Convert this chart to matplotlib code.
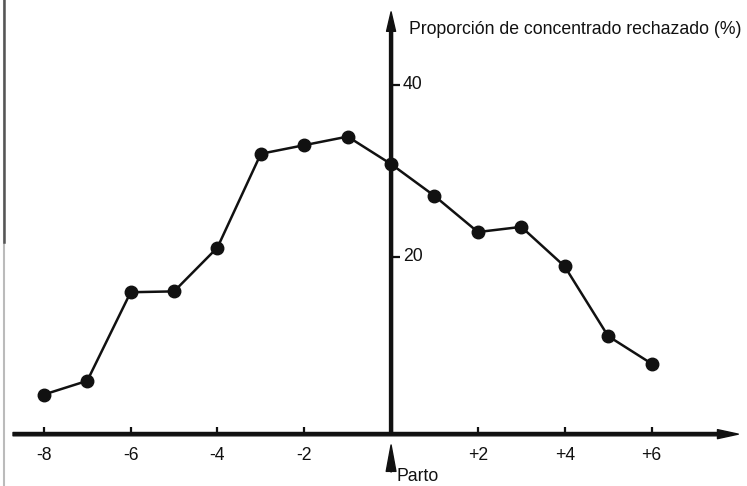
import matplotlib
matplotlib.use("Agg")
import matplotlib.pyplot as plt
from matplotlib.lines import Line2D

plt.rcParams["font.family"] = ["Liberation Sans", "DejaVu Sans"]

# semanas relativas al parto y proporción de concentrado rechazado (%)
weeks = [-8, -7, -6, -5, -4, -3, -2, -1, 0, 1, 2, 3, 4, 5, 6]
rejected = [4.0, 5.6, 15.9, 16.0, 21.1, 32.0, 33.0, 34.0, 30.8, 27.1, 22.9, 23.5, 18.9, 10.8, 7.6]

xtick_vals = [-8, -6, -4, -2, 2, 4, 6]
xtick_labels = ["-8", "-6", "-4", "-2", "+2", "+4", "+6"]
ytick_vals = [20, 40]
ytick_labels = ["20", "40"]

ink = "#111111"
fs = 12.7

fig = plt.figure(figsize=(7.47, 4.86), dpi=100)
ax = fig.add_axes([0, 0, 1, 1])
ax.set_xlim(-9.01, 8.20)
ax.set_ylim(-6.63, 49.88)
ax.axis("off")

x_axis_y = -0.6

# x axis with arrow
ax.annotate("", xy=(8.0, x_axis_y), xytext=(-8.71, x_axis_y),
            arrowprops=dict(facecolor=ink, edgecolor=ink, width=2.4,
                            headwidth=6.5, headlength=15, shrink=0))
# y axis with arrow
ax.annotate("", xy=(0, 48.5), xytext=(0, x_axis_y),
            arrowprops=dict(facecolor=ink, edgecolor=ink, width=2.2,
                            headwidth=6.5, headlength=14, shrink=0))

# ticks
ax.vlines(xtick_vals, x_axis_y, x_axis_y + 0.8, color=ink, lw=1.6)
for v, lab in zip(xtick_vals, xtick_labels):
    ax.text(v, -3.1, lab, ha="center", va="center", fontsize=fs, color=ink)

ax.hlines(ytick_vals, 0, 0.2, color=ink, lw=1.6)
for v, lab in zip(ytick_vals, ytick_labels):
    ax.text(0.27, v, lab, ha="left", va="center", fontsize=fs, color=ink)

ax.text(0.41, 46.5, "Proporción de concentrado rechazado (%)", ha="left",
        va="center", fontsize=fs, color=ink)

# series
ax.plot(weeks, rejected, color=ink, lw=1.8, marker="o", markersize=9,
        markerfacecolor=ink, markeredgecolor=ink, zorder=3)

# Parto marker
ax.annotate("", xy=(0, -1.86), xytext=(0, -5.0),
            arrowprops=dict(facecolor=ink, edgecolor=ink, width=0.01,
                            headwidth=7, headlength=19, shrink=0))
ax.text(0.12, -6.55, "Parto", ha="left", va="bottom", fontsize=fs, color=ink)

# scanned page edge on the left
fig.add_artist(Line2D([0.005, 0.005], [0, 1], color="#bbbbbb", lw=1.5))
fig.add_artist(Line2D([0.005, 0.005], [0.502, 1], color="#555555", lw=1.8))

fig.savefig("out.png", dpi=100)
